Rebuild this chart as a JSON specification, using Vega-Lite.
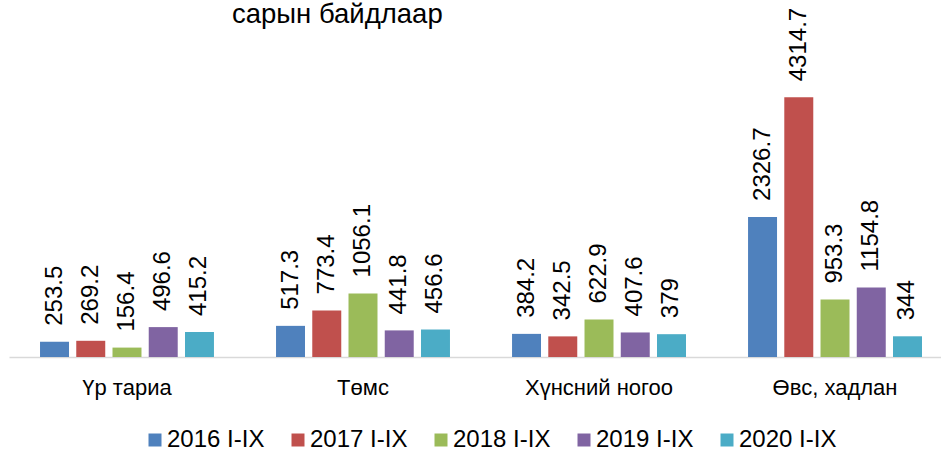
{
  "$schema": "https://vega.github.io/schema/vega-lite/v6.json",
  "autosize": "none",
  "width": 932,
  "height": 301,
  "padding": {"left": 9, "top": 56, "right": 0, "bottom": 93},
  "background": "white",
  "title": {"text": "сарын байдлаар", "anchor": "start", "frame": "group", "dx": 223, "offset": -21, "fontSize": 27.5, "fontWeight": "normal", "font": "Liberation Sans", "color": "#000000"},
  "data": {"values": [
    {"cat": "Үр тариа", "year": "2016 I-IX", "value": 253.5},
    {"cat": "Үр тариа", "year": "2017 I-IX", "value": 269.2},
    {"cat": "Үр тариа", "year": "2018 I-IX", "value": 156.4},
    {"cat": "Үр тариа", "year": "2019 I-IX", "value": 496.6},
    {"cat": "Үр тариа", "year": "2020 I-IX", "value": 415.2},
    {"cat": "Төмс", "year": "2016 I-IX", "value": 517.3},
    {"cat": "Төмс", "year": "2017 I-IX", "value": 773.4},
    {"cat": "Төмс", "year": "2018 I-IX", "value": 1056.1},
    {"cat": "Төмс", "year": "2019 I-IX", "value": 441.8},
    {"cat": "Төмс", "year": "2020 I-IX", "value": 456.6},
    {"cat": "Хүнсний ногоо", "year": "2016 I-IX", "value": 384.2},
    {"cat": "Хүнсний ногоо", "year": "2017 I-IX", "value": 342.5},
    {"cat": "Хүнсний ногоо", "year": "2018 I-IX", "value": 622.9},
    {"cat": "Хүнсний ногоо", "year": "2019 I-IX", "value": 407.6},
    {"cat": "Хүнсний ногоо", "year": "2020 I-IX", "value": 379},
    {"cat": "Өвс, хадлан", "year": "2016 I-IX", "value": 2326.7},
    {"cat": "Өвс, хадлан", "year": "2017 I-IX", "value": 4314.7},
    {"cat": "Өвс, хадлан", "year": "2018 I-IX", "value": 953.3},
    {"cat": "Өвс, хадлан", "year": "2019 I-IX", "value": 1154.8},
    {"cat": "Өвс, хадлан", "year": "2020 I-IX", "value": 344}
  ]},
  "encoding": {
    "x": {"field": "cat", "type": "nominal", "sort": null,
      "scale": {"paddingInner": 0.263, "paddingOuter": 0.106, "align": 0.62},
      "axis": {"title": null, "labelAngle": 0, "ticks": false, "labelFontSize": 22, "labelFont": "Liberation Sans", "labelColor": "#000000", "labelPadding": 20, "domainColor": "#D9D9D9", "domainWidth": 1.5}},
    "xOffset": {"field": "year", "type": "nominal", "scale": {"paddingInner": 0.2, "paddingOuter": 0}},
    "y": {"field": "value", "type": "quantitative", "scale": {"domain": [0, 5000]}, "axis": null}
  },
  "layer": [
    {"mark": {"type": "bar"},
     "encoding": {
       "color": {"field": "year", "type": "nominal",
         "scale": {"range": ["#4F81BD", "#C0504D", "#9BBB59", "#8064A2", "#4BACC6"]},
         "legend": {"title": null, "orient": "none", "direction": "horizontal", "legendX": 134, "legendY": 372, "labelFontSize": 24, "labelFont": "Liberation Sans", "labelColor": "#000000", "labelLimit": 0, "symbolType": "square", "symbolSize": 169, "symbolStrokeWidth": 0, "labelOffset": 0, "columnPadding": 21, "padding": 0}}
     }},
    {"mark": {"type": "text", "angle": 270, "align": "left", "baseline": "middle", "dx": 16, "fontSize": 24, "font": "Liberation Sans", "color": "#000000"},
     "encoding": {"text": {"field": "value", "type": "quantitative", "format": ""}}}
  ],
  "config": {"view": {"stroke": null}}
}
